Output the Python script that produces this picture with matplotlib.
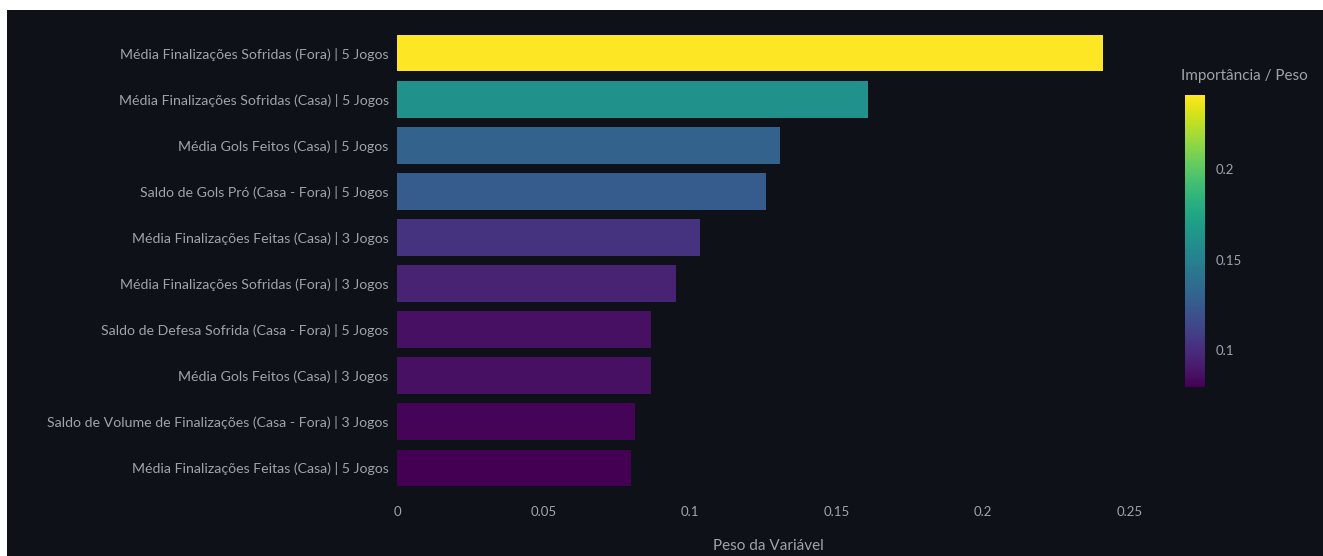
import numpy as np
import matplotlib.pyplot as plt
import matplotlib as mpl
from matplotlib.patches import Rectangle

features = [
    "Média Finalizações Sofridas (Fora) | 5 Jogos",
    "Média Finalizações Sofridas (Casa) | 5 Jogos",
    "Média Gols Feitos (Casa) | 5 Jogos",
    "Saldo de Gols Pró (Casa - Fora) | 5 Jogos",
    "Média Finalizações Feitas (Casa) | 3 Jogos",
    "Média Finalizações Sofridas (Fora) | 3 Jogos",
    "Saldo de Defesa Sofrida (Casa - Fora) | 5 Jogos",
    "Média Gols Feitos (Casa) | 3 Jogos",
    "Saldo de Volume de Finalizações (Casa - Fora) | 3 Jogos",
    "Média Finalizações Feitas (Casa) | 5 Jogos",
]
weights = [0.2408, 0.1606, 0.1306, 0.1258, 0.1033, 0.0951, 0.0866, 0.0865, 0.0812, 0.0798]

bg = '#0e1117'
txt = '#9ea3ad'
plt.rcParams['font.family'] = ['Lato', 'DejaVu Sans']

fig = plt.figure(figsize=(13.23, 5.56), dpi=100, facecolor='white')
# dark panel (screenshot has a thin white margin top/left)
fig.patches.append(Rectangle((7 / 1323, 0), 1, 1 - 10 / 556, transform=fig.transFigure,
                             facecolor=bg, edgecolor='none', zorder=-10))

ax = fig.add_axes([397 / 1323, 65 / 556, 743 / 1323, 461 / 556])
ax.set_facecolor(bg)

norm = mpl.colors.Normalize(vmin=min(weights), vmax=max(weights))
cmap = plt.get_cmap('viridis')
ypos = np.arange(len(features))
ax.barh(ypos, weights, height=0.8, color=cmap(norm(np.array(weights))))
ax.set_ylim(len(features) - 0.5, -0.5)
ax.set_xlim(0, 0.2535)
ax.set_yticks(ypos)
ax.set_yticklabels(features, fontsize=10.2, color=txt)
ax.set_xticks([0, 0.05, 0.1, 0.15, 0.2, 0.25])
ax.set_xticklabels(['0', '0.05', '0.1', '0.15', '0.2', '0.25'], fontsize=9.5, color=txt)
ax.tick_params(axis='y', length=0, pad=6)
ax.tick_params(axis='x', length=0, pad=11)
ax.set_xlabel('Peso da Variável', fontsize=11, color=txt, labelpad=15)
for s in ax.spines.values():
    s.set_visible(False)

cax = fig.add_axes([1185 / 1323, 169 / 556, 20 / 1323, 292 / 556])
cb = fig.colorbar(mpl.cm.ScalarMappable(norm=norm, cmap=cmap), cax=cax)
cb.outline.set_visible(False)
cb.set_ticks([0.1, 0.15, 0.2])
cb.set_ticklabels(['0.1', '0.15', '0.2'])
cax.tick_params(length=0, labelsize=9.5, labelcolor=txt, pad=8)
fig.text(1181 / 1323, 1 - 76 / 556, 'Importância / Peso', fontsize=11, color=txt,
         ha='left', va='center')

fig.savefig('out.png', dpi=100, facecolor=fig.get_facecolor())
